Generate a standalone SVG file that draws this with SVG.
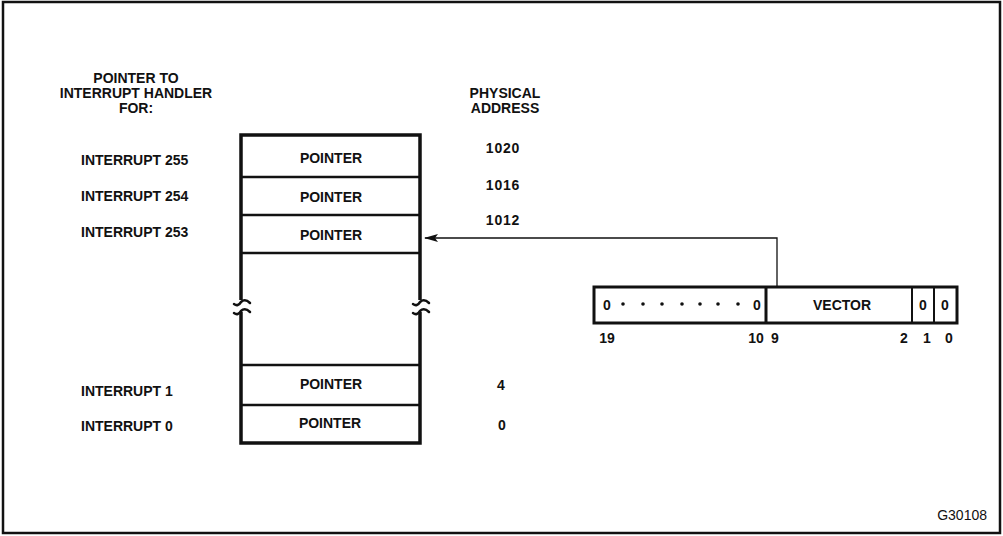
<svg xmlns="http://www.w3.org/2000/svg" width="1003" height="536" viewBox="0 0 1003 536">
<style>
text{font-family:"Liberation Sans",Arial,sans-serif;font-weight:bold;font-size:14px;fill:#111}
.c{text-anchor:middle}
.num{letter-spacing:0.8px}
.wall{stroke:#111;stroke-width:3.5;fill:none}
.div{stroke:#111;stroke-width:2.5;fill:none}
.brk{stroke:#111;stroke-width:2.5;fill:none;stroke-linecap:round}
.conn{stroke:#111;stroke-width:1.3;fill:none}
</style>
<defs>
<marker id="ah" markerWidth="14" markerHeight="10" refX="13" refY="5" orient="auto" markerUnits="userSpaceOnUse">
<path d="M0,1 L14,5 L0,9 L3,5 Z" fill="#111"/>
</marker>
</defs>
<rect x="3" y="2" width="997" height="531" fill="#fff" stroke="#111" stroke-width="2.5"/>

<g id="headers">
<text class="c" x="136" y="83">POINTER TO</text>
<text class="c" x="136" y="98">INTERRUPT HANDLER</text>
<text class="c" x="136" y="113">FOR:</text>
<text class="c" x="505" y="98">PHYSICAL</text>
<text class="c" x="505" y="113">ADDRESS</text>
</g>

<g id="labels">
<text x="81" y="165">INTERRUPT 255</text>
<text x="81" y="201">INTERRUPT 254</text>
<text x="81" y="237">INTERRUPT 253</text>
<text x="81" y="396">INTERRUPT 1</text>
<text x="81" y="431">INTERRUPT 0</text>
</g>

<g id="addresses">
<text class="c num" x="503" y="153">1020</text>
<text class="c num" x="503" y="190">1016</text>
<text class="c num" x="503" y="225">1012</text>
<text class="c" x="501" y="390">4</text>
<text class="c" x="502" y="430">0</text>
</g>

<g id="table">
<path class="wall" d="M241,300 L241,135 L420,135 L420,300 M241,312 L241,443 L420,443 L420,312"/>
<path class="brk" d="M234,304 Q238,307 241,302 Q245,298 250,303"/>
<path class="brk" d="M234,313 Q238,316 241,311 Q245,307 250,312"/>
<path class="brk" d="M413,304 Q417,307 420,302 Q424,298 429,303"/>
<path class="brk" d="M413,313 Q417,316 420,311 Q424,307 429,312"/>
<g id="row255"><line class="div" x1="241" y1="177" x2="420" y2="177"/><text class="c" x="331" y="163">POINTER</text></g>
<g id="row254"><line class="div" x1="241" y1="215" x2="420" y2="215"/><text class="c" x="331" y="202">POINTER</text></g>
<g id="row253"><line class="div" x1="241" y1="253" x2="420" y2="253"/><text class="c" x="331" y="240">POINTER</text></g>
<g id="row1"><line class="div" x1="241" y1="365" x2="420" y2="365"/><text class="c" x="331" y="389">POINTER</text></g>
<g id="row0"><line class="div" x1="241" y1="405" x2="420" y2="405"/><text class="c" x="330" y="428">POINTER</text></g>
</g>

<g id="register">
<rect x="594" y="287" width="363" height="36" fill="#fff" stroke="#111" stroke-width="3"/>
<line x1="766" y1="287" x2="766" y2="323" stroke="#111" stroke-width="3"/>
<line x1="912" y1="287" x2="912" y2="323" stroke="#111" stroke-width="2"/>
<line x1="934" y1="287" x2="934" y2="323" stroke="#111" stroke-width="2"/>
<text class="c" x="607" y="310">0</text>
<g fill="#111">
<circle cx="623" cy="304" r="1.8"/><circle cx="643" cy="304" r="1.8"/><circle cx="662" cy="304" r="1.8"/><circle cx="682" cy="304" r="1.8"/><circle cx="700" cy="304" r="1.8"/><circle cx="718" cy="304" r="1.8"/><circle cx="738" cy="304" r="1.8"/>
</g>
<text class="c" x="757" y="310">0</text>
<text class="c" x="842" y="310">VECTOR</text>
<text class="c" x="923" y="310">0</text>
<text class="c" x="945" y="310">0</text>
<text class="c" x="607" y="343">19</text>
<text class="c" x="756" y="343">10</text>
<text class="c" x="775" y="343">9</text>
<text class="c" x="904" y="343">2</text>
<text class="c" x="927" y="343">1</text>
<text class="c" x="949" y="343">0</text>
</g>

<g id="connectors">
<path class="conn" d="M777,287 L777,238 L425,238" marker-end="url(#ah)"/>
</g>

<text x="987" y="520" text-anchor="end" style="font-weight:normal;font-size:14px">G30108</text>
</svg>
